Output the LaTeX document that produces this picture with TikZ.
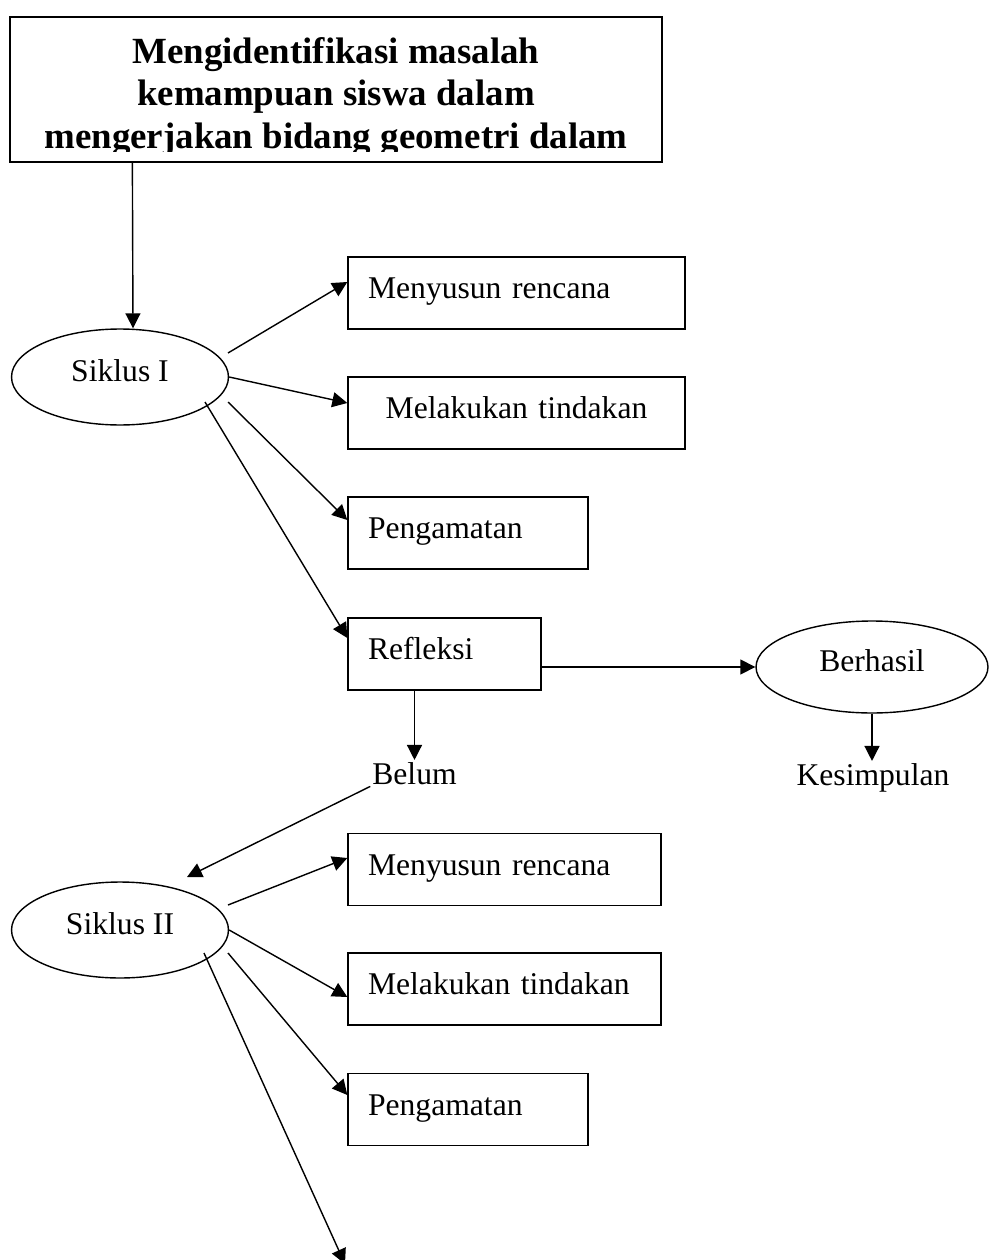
\documentclass[tikz,border=0pt]{standalone}
\usepackage{fontspec}
\setmainfont{Liberation Serif}
\usetikzlibrary{shapes.geometric, arrows.meta, calc}

\begin{document}
\begin{tikzpicture}[x=0.02cm, y=-0.02cm,
  kotak/.style={draw, rectangle, line width=0.8pt, font=\fontsize{18}{21.6}\selectfont, align=left, inner xsep=0.4cm, inner ysep=0pt, minimum height=1.44cm, text height=12.6pt, text depth=6.3pt},
  lingkar/.style={draw, ellipse, line width=0.8pt, inner sep=0pt, font=\fontsize{18}{21.6}\selectfont, minimum width=4.34cm, minimum height=1.92cm, text height=12.3pt, text depth=7.7pt},
  teks/.style={font=\fontsize{18}{21.6}\selectfont, inner sep=1pt, anchor=base},
  judul/.style={align=center, font=\fontsize{21}{24.2}\selectfont\bfseries, inner sep=0pt, anchor=base},
  panah/.style={-{Triangle[length=0.3cm, width=0.3cm]}, line width=0.8pt}]

\useasboundingbox (0,0) rectangle (990,1260);

% Kotak masalah (teks terpotong di bawah)
\node[draw, line width=0.8pt, minimum width=13.04cm, minimum height=2.9cm, inner sep=0pt] (masalah) at (336,89.5) {};
\begin{scope}
  \clip (masalah.north west) rectangle ($(masalah.south east)+(0,-11)$);
  \node[judul] (masalah_teks) at (336,148.5) {Mengidentifikasi masalah\\kemampuan siswa dalam\\mengerjakan bidang geometri dalam};
\end{scope}

% Siklus I
\node[lingkar] (siklus_1) at (120,377) {Siklus I};
\node[kotak, text width=5.94cm] (menyusun_1) at (516.5,293) {Menyusun rencana};
\node[kotak, text width=5.94cm, align=center] (melakukan_1) at (516.5,413) {Melakukan tindakan};
\node[kotak, text width=4cm] (pengamatan_1) at (468,533) {Pengamatan};
\node[kotak, text width=3.06cm] (refleksi) at (444.5,654) {Refleksi};

% Hasil refleksi
\node[lingkar, minimum width=4.64cm, minimum height=1.84cm] (berhasil) at (872,667) {Berhasil};
\node[teks] (belum) at (414.5,784) {Belum};
\node[teks] (kesimpulan) at (873,785) {Kesimpulan};

% Siklus II
\node[lingkar] (siklus_2) at (120,930) {Siklus II};
\node[kotak, text width=5.46cm] (menyusun_2) at (504.5,869.5) {Menyusun rencana};
\node[kotak, text width=5.46cm] (melakukan_2) at (504.5,989) {Melakukan tindakan};
\node[kotak, text width=4cm] (pengamatan_2) at (468,1109.5) {Pengamatan};
\coordinate (lanjut) at (345,1264);

% Panah
\draw[panah] ($(masalah.south west)+(123,0)$) -- ($(siklus_1.north)+(13,0)$);
\draw[panah] ($(siklus_1)+(108,-24)$) -- ($(menyusun_1.west)+(0,-11)$);
\draw[panah] (siklus_1.east) -- ($(melakukan_1.west)+(0,-10)$);
\draw[panah] ($(siklus_1)+(108,25)$) -- ($(pengamatan_1.west)+(0,-13)$);
\draw[panah] ($(siklus_1)+(85,25)$) -- ($(refleksi.west)+(0,-16)$);
\draw[panah] (refleksi.east |- berhasil.west) -- (berhasil.west);
\draw[panah] (refleksi.south -| belum.north) -- (belum.north);
\draw[panah] (berhasil.south) -- (berhasil.south |- kesimpulan.north);
\draw[panah] (belum.south west) -- ($(siklus_2)+(67,-53)$);
\draw[panah] ($(siklus_2)+(108,-25)$) -- ($(menyusun_2.west)+(0,-11.5)$);
\draw[panah] (siklus_2.east) -- ($(melakukan_2.west)+(0,8)$);
\draw[panah] ($(siklus_2)+(108,23)$) -- ($(pengamatan_2.west)+(0,-14.5)$);
\draw[panah] ($(siklus_2)+(84,23)$) -- (lanjut);

\end{tikzpicture}
\end{document}
